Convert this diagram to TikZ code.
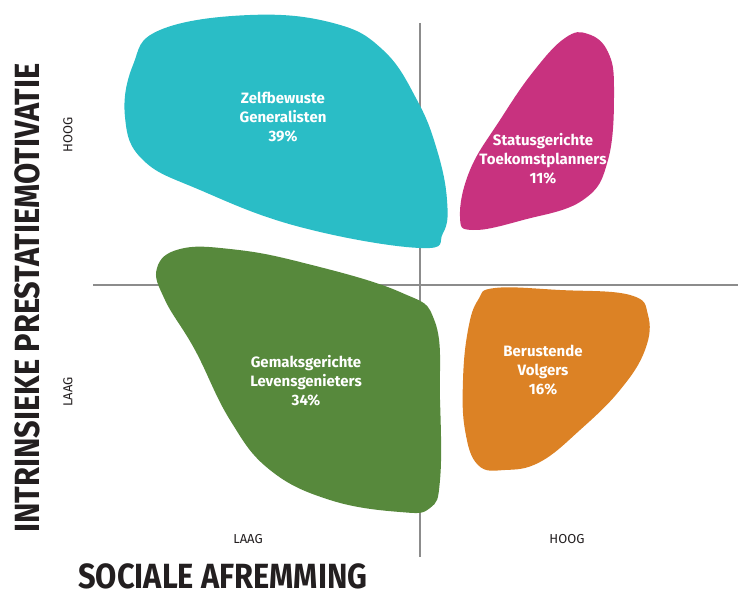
\documentclass[tikz,border=0pt]{standalone}
\usepackage{fontspec}
\setmainfont{Fira Sans}
\definecolor{zelfblauw}{HTML}{2ABDC6}
\definecolor{statusroze}{HTML}{C8327F}
\definecolor{gemakgroen}{HTML}{57893C}
\definecolor{volgoranje}{HTML}{DC8225}
\definecolor{asgrijs}{HTML}{8C8C8C}
\definecolor{titelzwart}{HTML}{231F20}
\begin{document}
\begin{tikzpicture}[x=1pt,y=-1pt,
  groep/.style={align=center,text=white,font=\fontsize{15}{19}\selectfont\bfseries},
  schaal/.style={text=titelzwart,font=\fontsize{13}{14}\selectfont},
  titel/.style={text=titelzwart,inner sep=0pt,font=\fontsize{35}{35}\selectfont\bfseries}]
\useasboundingbox (0,0) rectangle (738,596);
%% assen
\draw[asgrijs,line width=2.5pt] (420,23) -- (420,557);
\draw[asgrijs,line width=2.5pt] (93,285) -- (738,285);
%% groepen
\fill[zelfblauw] plot[smooth cycle,tension=0.7] coordinates {(250,15) (333,23) (383,50) (417,100) (437,150) (447,200) (443,233) (420,248) (300,227) (200,190) (143,160) (125,117) (133,65) (160,30)};
\fill[statusroze] plot[smooth cycle,tension=0.7] coordinates {(588,34) (608,52) (614,90) (608,160) (583,200) (523,220) (473,230) (460,217) (470,170) (500,120) (533,72) (565,38)};
\fill[gemakgroen] plot[smooth cycle,tension=0.7] coordinates {(180,249) (230,249) (300,262) (400,292) (435,322) (440,400) (440,480) (430,508) (400,512) (330,500) (270,470) (230,420) (195,350) (165,300) (157,268)};
\fill[volgoranje] plot[smooth cycle,tension=0.7] coordinates {(495,288) (560,290) (630,295) (648,315) (645,350) (620,390) (580,430) (540,462) (505,470) (478,465) (465,430) (463,380) (468,330) (478,300)};
%%
\node[groep] (zelf) at (283,117) {Zelfbewuste\\Generalisten\\39\%};
\node[groep] (status) at (543,159) {Statusgerichte\\Toekomstplanners\\11\%};
\node[groep] (gemak) at (306,381) {Gemaksgerichte\\Levensgenieters\\34\%};
\node[groep] (volg) at (543,370) {Berustende\\Volgers\\16\%};
%% schaalwaarden
\node[schaal,rotate=90] (yhoog) at (68,135) {HOOG};
\node[schaal,rotate=90] (ylaag) at (68,392) {LAAG};
\node[schaal] (xlaag) at (248,539) {LAAG};
\node[schaal] (xhoog) at (567,539) {HOOG};
%% astitels
\node[titel,rotate=90] (ytitel) at (27,298) {\scalebox{0.88}[1]{INTRINSIEKE PRESTATIEMOTIVATIE}};
\node[titel,anchor=base west] (xtitel) at (78,588) {\scalebox{0.88}[1]{SOCIALE AFREMMING}};
\end{tikzpicture}
\end{document}
